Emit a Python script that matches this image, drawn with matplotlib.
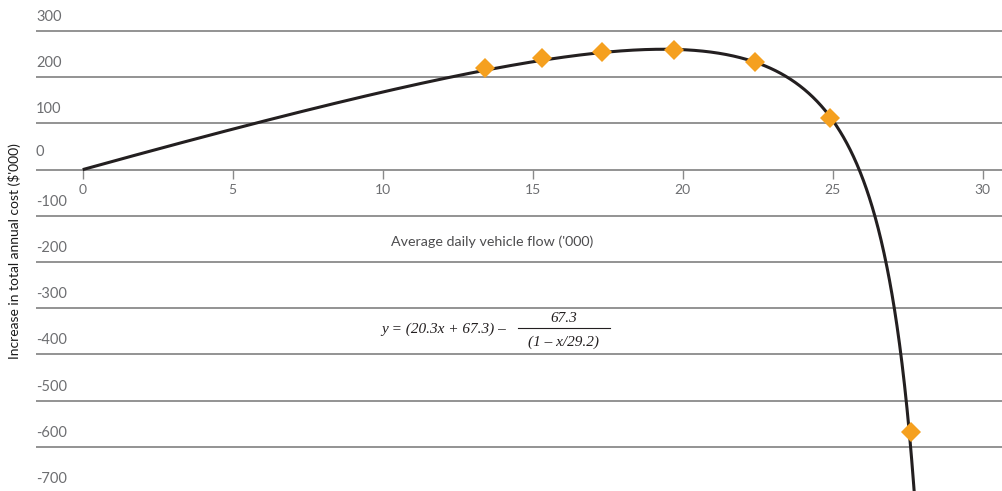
import numpy as np
import matplotlib
matplotlib.use("Agg")
import matplotlib.pyplot as plt
from matplotlib.lines import Line2D
import matplotlib.transforms as mtransforms

# ---- data ----
point_x = [13.4, 15.3, 17.3, 19.7, 22.4, 24.9, 27.6]
point_y = [221, 241, 255, 259, 232, 111, -567]
# fitted curve y = (a*x + b) - b / (1 - x/c), as printed on the chart
coef_a = 20.3
coef_b = 67.3
coef_c = 29.2
x_ticks = [0, 5, 10, 15, 20, 25, 30]
y_ticks = [300, 200, 100, 0, -100, -200, -300, -400, -500, -600, -700]
x_label = "Average daily vehicle flow ('000)"
y_label = "Increase in total annual cost ($'000)"

W, H = 1003, 491
fig = plt.figure(figsize=(W / 100, H / 100), dpi=100)
ax = fig.add_axes([36 / W, 0, 1 - 36 / W, 1])

FONT = "Lato"
GRID = "#8a8a8a"
TICK_TXT = "#6d6e71"

ax.set_xlim(-1.557, 30.68)
ax.set_ylim(-695.8, 367.2)

for s in ax.spines.values():
    s.set_visible(False)

# horizontal gridlines
for v in y_ticks:
    ax.axhline(v, color=GRID, lw=1.3, zorder=1)

# x ticks on the zero line
ax.spines['bottom'].set_position(('data', 0))
ax.set_xticks(x_ticks)
ax.set_xticklabels([str(t) for t in x_ticks], fontsize=10, color=TICK_TXT, family=FONT)
ax.tick_params(axis='x', direction='out', length=6.5, width=1, color=GRID, pad=4)
ax.set_yticks([])

# y tick labels: left-aligned, above gridlines
for v in y_ticks:
    off = 18 if v == 0 else 14
    tr = mtransforms.offset_copy(
        mtransforms.blended_transform_factory(ax.transAxes, ax.transData),
        fig=fig, x=0, y=off * 0.72, units='points')
    ax.text(0, v, str(v), transform=tr, ha='left', va='center',
            fontsize=10.5, color=TICK_TXT, family=FONT)

# curve
xc = np.linspace(0, 27.9, 2000)
yc = (coef_a * xc + coef_b) - coef_b / (1 - xc / coef_c)
ax.plot(xc, yc, color="#231f20", lw=2.2, zorder=3, solid_capstyle='butt')

# markers
ax.plot(point_x, point_y, linestyle='none', marker='D', markersize=10.5,
        color="#f5a01f", markeredgewidth=0, zorder=4)

# axis labels
fig.text(492 / W, 1 - 242 / H, x_label, ha='center', va='center',
         fontsize=10.3, color="#4d4d4f", family=FONT)
fig.text(15 / W, 1 - 251 / H, y_label, ha='center', va='center',
         rotation=90, fontsize=10, color="#1a1a1a", family=FONT)

# formula
SERIF = "Liberation Serif"
fig.text(381.7 / W, 1 - 329 / H, "y = (20.3x + 67.3) \u2013", ha='left', va='center',
         fontsize=11, style='italic', family=SERIF, color="#231f20")
fig.text(564 / W, 1 - 318.5 / H, "67.3", ha='center', va='center',
         fontsize=11, style='italic', family=SERIF, color="#231f20")
fig.text(564 / W, 1 - 342 / H, "(1 \u2013 x/29.2)", ha='center', va='center',
         fontsize=11, style='italic', family=SERIF, color="#231f20")
fig.add_artist(Line2D([517.7 / W, 610 / W], [1 - 328.3 / H, 1 - 328.3 / H],
                      transform=fig.transFigure, color="#231f20", lw=0.8))

fig.savefig("out.png", dpi=100)
